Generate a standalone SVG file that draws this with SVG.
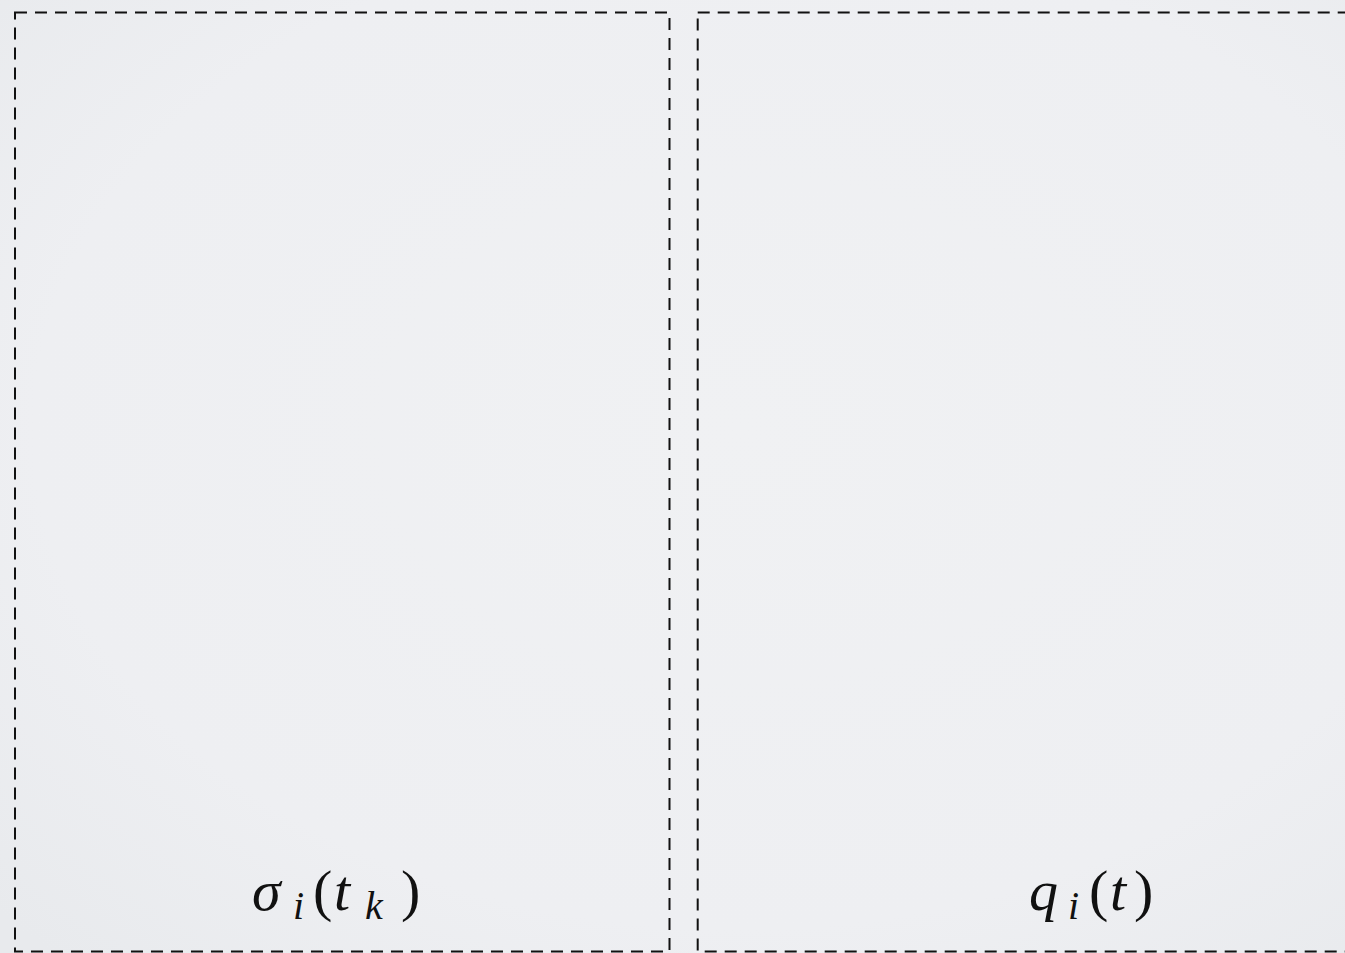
<svg xmlns="http://www.w3.org/2000/svg" width="1345" height="953" viewBox="0 0 1345 953">
<defs>
<radialGradient id="bg" cx="0.55" cy="0.45" r="0.75">
<stop offset="0" stop-color="#f0f1f3"/>
<stop offset="0.7" stop-color="#eeeff2"/>
<stop offset="1" stop-color="#e8eaed"/>
</radialGradient>
<style>
.panel{fill:none;stroke:#111;stroke-width:2;stroke-dasharray:12 8}
.m{font-family:"Liberation Serif","DejaVu Serif",serif;font-size:58px;fill:#111}
.it{font-style:italic}
.sub{font-size:40px;font-style:italic}
</style>
</defs>
<rect x="0" y="0" width="1345" height="953" fill="url(#bg)"/>
<g id="panel-left">
<rect class="panel" x="15" y="12.5" width="654.5" height="939"/>
<text class="m"><tspan class="it" x="252" y="910">σ</tspan><tspan class="sub" x="293" y="919">i</tspan><tspan x="313" y="910">(</tspan><tspan class="it" x="334" y="910">t</tspan><tspan class="sub" x="365" y="919">k</tspan><tspan x="401" y="910">)</tspan></text>
</g>
<g id="panel-right">
<rect class="panel" x="697.7" y="12.5" width="700" height="939"/>
<text class="m"><tspan class="it" x="1029" y="910">q</tspan><tspan class="sub" x="1068" y="919">i</tspan><tspan x="1089" y="910">(</tspan><tspan class="it" x="1110" y="910">t</tspan><tspan x="1134" y="910">)</tspan></text>
</g>
<g id="connectors"/>
</svg>
